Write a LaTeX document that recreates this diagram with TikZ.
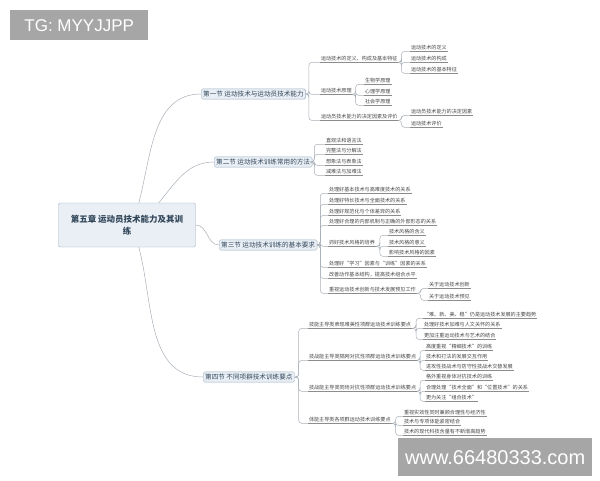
\documentclass[tikz,border=0pt]{standalone}
\usepackage{fontspec}
\setmainfont{Liberation Sans}
\newfontfamily\cjk{Noto Sans CJK SC}
\definecolor{linegray}{HTML}{A9B0B8}
\definecolor{boxfill}{HTML}{E9EFF5}
\definecolor{boxline}{HTML}{9FB1C2}
\definecolor{inkblue}{HTML}{33475B}
\definecolor{wmgray}{HTML}{A6A6A6}
\tikzset{
  leaf/.style={font=\cjk\fontsize{5.1}{6}\selectfont, text=black!72, inner sep=0.8pt, anchor=west,
    append after command={(\tikzlastnode.south west) edge[draw=black!45, line width=.5pt] (\tikzlastnode.south east)}},
  sect/.style={draw=boxline, fill=boxfill, rounded corners=1.5pt, font=\cjk\fontsize{6.6}{7}\selectfont,
    text=inkblue, inner sep=2pt, anchor=west},
  conn/.style={draw=linegray, line width=.5pt, rounded corners=3pt},
  wm/.style={fill=wmgray, text=white, inner sep=0pt},
}
\begin{document}
\begin{tikzpicture}[x=1pt,y=-1pt]
            \useasboundingbox[fill=white] (0,0) rectangle (600,480);

            % chapter
            \node[draw=boxline, fill=boxfill, rounded corners=2pt, minimum width=137, minimum height=44,
                  align=center, font=\cjk\bfseries\fontsize{8.5}{12}\selectfont, text=inkblue]
                  (root) at (127,225) {第五章 运动员技术能力及其训\\练};

            % sections
            \node[sect] (sA) at (201,94)  {第一节 运动技术与运动员技术能力};
            \node[sect] (sB) at (214,162) {第二节 运动技术训练常用的方法};
            \node[sect] (sC) at (219,245) {第三节 运动技术训练的基本要求};
            \node[sect] (sD) at (203,377) {第四节 不同项群技术训练要点};

            \draw[conn] (root.62) to[out=75,in=180] (sA.west);
            \draw[conn] (root.35) to[out=50,in=180] (sB.west);
            \draw[conn] (root.east) to[out=0,in=180] (sC.west);
            \draw[conn] (root.-62) to[out=-75,in=180] (sD.west);

            % section 1
            \node[leaf] (a1) at (320,59)  {运动技术的定义、构成及基本特征};
            \node[leaf] (a2) at (320,91)  {运动技术原理};
            \node[leaf] (a3) at (320,117) {运动员技术能力的决定因素及评价};
            \node[leaf] (a11) at (410,48) {运动技术的定义};
            \node[leaf] (a12) at (410,59) {运动技术的构成};
            \node[leaf] (a13) at (410,70) {运动技术的基本特征};
            \node[leaf] (a21) at (364,81)  {生物学原理};
            \node[leaf] (a22) at (364,92)  {心理学原理};
            \node[leaf] (a23) at (364,102) {社会学原理};
            \node[leaf] (a31) at (410,112) {运动员技术能力的决定因素};
            \node[leaf] (a32) at (410,124) {运动技术评价};

            \foreach \c in {a1,a2,a3} \draw[conn] (sA.east) -- ++(3,0) |- (\c.south west);
            \foreach \c in {a11,a12,a13} \draw[conn] (a1.south east) -- ++(3,0) |- (\c.south west);
            \foreach \c in {a21,a22,a23} \draw[conn] (a2.south east) -- ++(3,0) |- (\c.south west);
            \foreach \c in {a31,a32} \draw[conn] (a3.south east) -- ++(3,0) |- (\c.south west);

            % section 2
            \node[leaf] (b1) at (325,141) {直观法和语言法};
            \node[leaf] (b2) at (325,151) {完整法与分解法};
            \node[leaf] (b3) at (325,162) {想象法与表象法};
            \node[leaf] (b4) at (325,172) {减难法与加难法};

            \foreach \c in {b1,b2,b3,b4} \draw[conn] (sB.east) -- ++(2,0) |- (\c.south west);

            % section 3
            \node[leaf] (c1) at (328,190) {处理好基本技术与高难度技术的关系};
            \node[leaf] (c2) at (328,201) {处理好特长技术与全面技术的关系};
            \node[leaf] (c3) at (328,212) {处理好规范化与个体差异的关系};
            \node[leaf] (c4) at (328,222) {处理好合理的内部机制与正确的外部形态的关系};
            \node[leaf] (c5) at (328,243) {抓好技术风格的培养};
            \node[leaf] (c6) at (328,264) {处理好“学习”因素与“训练”因素的关系};
            \node[leaf] (c7) at (328,275) {改善动作基本结构，提高技术组合水平};
            \node[leaf] (c8) at (328,290) {重视运动技术创新与技术发展预见工作};
            \node[leaf] (c51) at (388,232) {技术风格的含义};
            \node[leaf] (c52) at (388,243) {技术风格的意义};
            \node[leaf] (c53) at (388,253) {影响技术风格的因素};
            \node[leaf] (c81) at (428,285) {关于运动技术创新};
            \node[leaf] (c82) at (428,297) {关于运动技术预见};

            \foreach \c in {c1,c2,c3,c4,c5,c6,c7,c8} \draw[conn] (sC.east) -- ++(3,0) |- (\c.south west);
            \foreach \c in {c51,c52,c53} \draw[conn] (c5.south east) -- ++(4,0) |- (\c.south west);
            \foreach \c in {c81,c82} \draw[conn] (c8.south east) -- ++(4,0) |- (\c.south west);

            % section 4
            \node[leaf] (d1) at (308,325) {技能主导类表现难美性项群运动技术训练要点};
            \node[leaf] (d2) at (308,357) {技战能主导类隔网对抗性项群运动技术训练要点};
            \node[leaf] (d3) at (308,388) {技战能主导类同场对抗性项群运动技术训练要点};
            \node[leaf] (d4) at (308,420) {体能主导类各项群运动技术训练要点};
            \node[leaf] (d11) at (423,315) {“难、新、美、稳”仍是运动技术发展的主要趋势};
            \node[leaf] (d12) at (423,325) {处理好技术加难与人文关怀的关系};
            \node[leaf] (d13) at (423,336) {更加注重运动技术与艺术的结合};
            \node[leaf] (d21) at (425,347) {高度重视“精细技术”的训练};
            \node[leaf] (d22) at (425,357) {技术和打法的发展交互作用};
            \node[leaf] (d23) at (425,367) {进攻性技战术与防守性技战术交替发展};
            \node[leaf] (d31) at (425,377) {格外重视身体对抗技术的训练};
            \node[leaf] (d32) at (425,388) {合理处理“技术全面”和“位置技术”的关系};
            \node[leaf] (d33) at (425,398) {更为关注“组合技术”};
            \node[leaf] (d41) at (403,413) {重视实效性同时兼顾合理性与经济性};
            \node[leaf] (d42) at (403,422) {技术与专项体能紧密结合};
            \node[leaf] (d43) at (403,432) {技术的现代科技含量有不断增高趋势};

            \foreach \c in {d1,d2,d3,d4} \draw[conn] (sD.east) -- ++(4,0) |- (\c.south west);
            \foreach \c in {d11,d12,d13} \draw[conn] (d1.south east) -- ++(4,0) |- (\c.south west);
            \foreach \c in {d21,d22,d23} \draw[conn] (d2.south east) -- ++(3,0) |- (\c.south west);
            \foreach \c in {d31,d32,d33} \draw[conn] (d3.south east) -- ++(3,0) |- (\c.south west);
            \foreach \c in {d41,d42,d43} \draw[conn] (d4.south east) -- ++(4,0) |- (\c.south west);

            % marks
            \node[wm, minimum width=138, minimum height=30, anchor=north west,
                  font=\fontsize{17}{20}\selectfont] (tg) at (10,10) {TG: MYYJJPP};
            \node[wm, minimum width=194, minimum height=38, anchor=north west,
                  font=\fontsize{20}{24}\selectfont] (site) at (398,438) {www.66480333.com};
        \end{tikzpicture}
\end{document}
